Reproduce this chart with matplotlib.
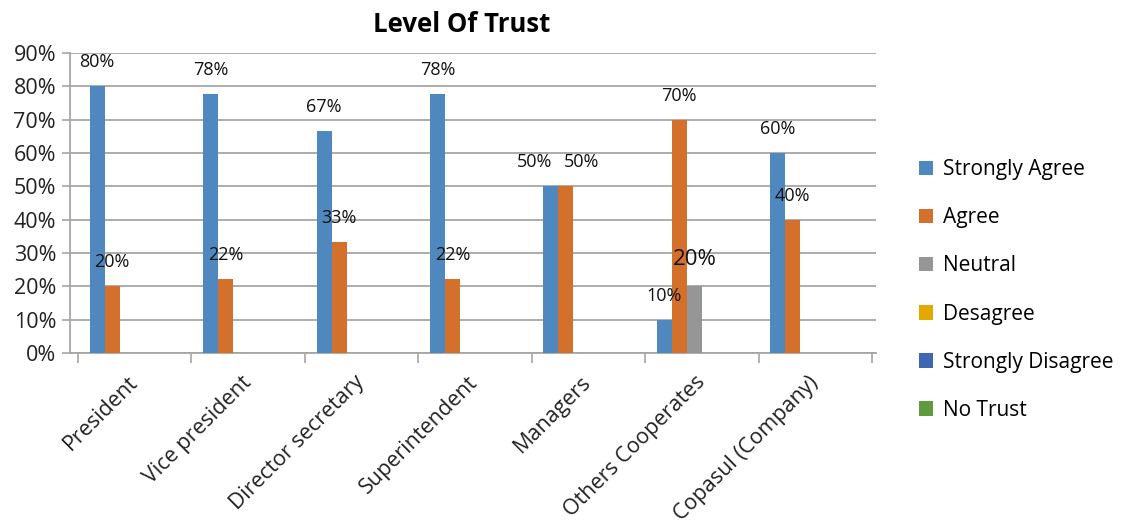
import numpy as np
from matplotlib import pyplot as plt

plt.rcParams['font.family'] = ['Open Sans', 'DejaVu Sans']

# categories and series (shares of respondents)
categories = ['President', 'Vice president', 'Director secretary', 'Superintendent',
              'Managers', 'Others Cooperates', 'Copasul (Company)']
series_names = ['Strongly Agree', 'Agree', 'Neutral', 'Desagree', 'Strongly Disagree', 'No Trust']
strongly_agree = [0.80, 0.778, 0.667, 0.778, 0.50, 0.10, 0.60]
agree = [0.20, 0.222, 0.333, 0.222, 0.50, 0.70, 0.40]
neutral = [0, 0, 0, 0, 0, 0.20, 0]
desagree = [0, 0, 0, 0, 0, 0, 0]
strongly_disagree = [0, 0, 0, 0, 0, 0, 0]
no_trust = [0, 0, 0, 0, 0, 0, 0]

colors = ['#4F88BE', '#D2702C', '#969696', '#E3A900', '#3F67B1', '#5F9B3D']
all_series = [strongly_agree, agree, neutral, desagree, strongly_disagree, no_trust]

# label nudges in pixels (series index, category index) -> dx
nudge = {(0, 4): -16, (1, 4): 16}

fig = plt.figure(figsize=(11.31, 5.30), dpi=100)
ax = fig.add_axes([70/1131, 1-353/530, 806/1131, 300/530])

x = np.arange(len(categories))
w = 15/113.5
start = -3*w

handles = []
for i, vals in enumerate(all_series):
    pos = x + start + (i + 0.5)*w
    b = ax.bar(pos, vals, w, color=colors[i], linewidth=0, zorder=3, label=series_names[i])
    handles.append(b)
    for j, (px, v) in enumerate(zip(pos, vals)):
        if v > 0:
            big = (i == 2)
            ax.annotate('%d%%' % round(v*100), (px, v),
                        xytext=(nudge.get((i, j), 0), 27 if big else 24),
                        textcoords='offset pixels', ha='center', va='center',
                        fontsize=16 if big else 13, color='#111111', zorder=4)

ax.set_ylim(0, 0.9)
ax.set_xlim(-0.5 - 8/113.5, 6.5 + 4/113.5)
ax.set_yticks(np.arange(0, 0.91, 0.1))
ax.set_yticklabels(['%d%%' % (t*10) for t in range(10)], fontsize=15.5, color='#222222')
ax.yaxis.grid(True, color='#A6A6A6', linewidth=1.3, zorder=0)
ax.tick_params(axis='y', length=6, width=1.2, color='#A6A6A6', pad=4)

ax.set_xticks(x)
ax.set_xticklabels(categories, rotation=45, ha='right', va='center', rotation_mode='anchor',
                   fontsize=15.5, color='#222222')
ax.tick_params(axis='x', which='major', length=0, pad=19)
ax.set_xticks(np.arange(-0.5, 7, 1), minor=True)
ax.tick_params(axis='x', which='minor', length=7, width=1.2, color='#A6A6A6')

for s in ['top', 'right']:
    ax.spines[s].set_visible(False)
for s in ['left', 'bottom']:
    ax.spines[s].set_color('#A6A6A6')
    ax.spines[s].set_linewidth(1.3)

fig.text(462/1131, 1-24/530, 'Level Of Trust', ha='center', va='center', fontsize=18.5, fontweight='bold')

fig.legend(handles=handles, labels=series_names, loc='center left', bbox_to_anchor=(900/1131, 1-290/530),
           frameon=False, fontsize=15, handlelength=0.7, handleheight=0.7, handletextpad=0.45,
           labelspacing=1.3)

fig.savefig('out.png', dpi=100)
